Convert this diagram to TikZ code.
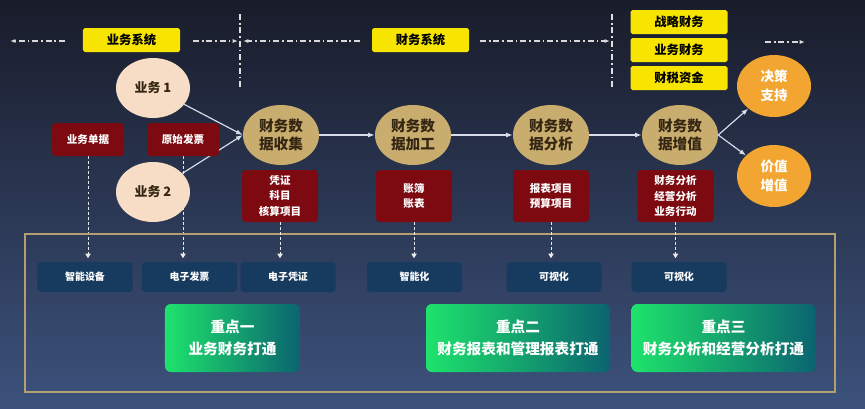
\documentclass[tikz,border=0pt]{standalone}
\usepackage{fontspec}
\setmainfont{Noto Sans CJK SC}
\usetikzlibrary{shapes.geometric, arrows.meta, positioning}
\pgfdeclarelayer{back}
\pgfdeclarelayer{mid}
\pgfsetlayers{back,mid,main}

\definecolor{bgtop}{RGB}{25,28,42}
\definecolor{bgbot}{RGB}{60,82,124}
\definecolor{sysyellow}{RGB}{247,228,0}
\definecolor{peach}{RGB}{248,221,198}
\definecolor{docred}{RGB}{124,10,16}
\definecolor{gold}{RGB}{201,173,110}
\definecolor{goldtext}{RGB}{52,38,18}
\definecolor{orange}{RGB}{242,165,48}
\definecolor{toolblue}{RGB}{23,58,95}
\definecolor{frame}{RGB}{181,159,112}
\definecolor{greenl}{RGB}{30,227,108}
\definecolor{greenr}{RGB}{11,100,112}
\definecolor{flow}{RGB}{215,220,232}

\begin{document}
\begin{tikzpicture}[x=0.03cm, y=-0.03cm,
    tag/.style={fill=sysyellow, text=black, minimum width=2.91cm, minimum height=0.72cm, inner sep=0pt,
        rounded corners=1.5pt, font=\fontsize{10.5}{12}\selectfont\bfseries},
    biz/.style={ellipse, fill=peach, text=goldtext, minimum width=2.22cm, minimum height=1.8cm, inner sep=0pt,
        font=\fontsize{11}{14}\selectfont\bfseries},
    doc/.style={fill=docred, text=white, minimum width=2.16cm, minimum height=0.99cm, inner sep=0pt,
        rounded corners=3pt, align=center, font=\fontsize{9}{13}\selectfont\bfseries},
    bigdoc/.style={doc, minimum width=2.28cm, minimum height=1.56cm},
    proc/.style={ellipse, fill=gold, text=goldtext, minimum width=2.28cm, minimum height=1.8cm, inner sep=0pt,
        align=center, font=\fontsize{12.5}{16}\selectfont\bfseries},
    goal/.style={ellipse, fill=orange, text=white, minimum width=2.22cm, minimum height=1.86cm, inner sep=0pt,
        align=center, font=\fontsize{11.5}{16}\selectfont\bfseries},
    tool/.style={fill=toolblue, text=white, minimum width=2.85cm, minimum height=0.9cm, inner sep=0pt,
        rounded corners=3pt, font=\fontsize{8.5}{10}\selectfont\bfseries},
    focus/.style={left color=greenl, middle color=greenl!80!greenr, right color=greenr, text=white,
        minimum height=2.04cm, inner sep=0pt,
        rounded corners=5pt, align=center, font=\fontsize{12.5}{19}\selectfont\bfseries},
    link/.style={draw=flow, line width=1pt, -{Latex[length=2mm]}},
    sep/.style={draw=gray!25, line width=1.5pt, dash pattern=on 5pt off 2.5pt on 1.5pt off 2.5pt},
    span/.style={draw=gray!30, line width=1.1pt, dash pattern=on 5pt off 2.5pt on 1.5pt off 2.5pt,
        -{Latex[length=1.6mm]}},
    down/.style={draw=white!85!gray, line width=0.8pt, dash pattern=on 2.5pt off 1.8pt,
        -{Triangle[length=1.4mm, width=1.6mm]}, shorten >=3pt}
]
    \begin{pgfonlayer}{back}
        \fill[top color=bgtop, bottom color=bgbot] (0,0) rectangle (865,408);
    \end{pgfonlayer}
    \useasboundingbox (0,0) rectangle (865,408);

    \draw[frame, line width=1.6pt] (25,234) rectangle (835,392);

    \node[tag] (ywxt) at (131.5,40) {业务系统};
    \node[tag] (cwxt) at (420.5,40) {财务系统};
    \node[tag] (zl) at (679,22) {战略财务};
    \node[tag] (ywcw) at (679,50) {业务财务};
    \node[tag] (cszj) at (679,78) {财税资金};

    \coordinate (s1t) at (240,14);
    \coordinate (s1b) at (240,90);
    \coordinate (s2t) at (612,14);
    \coordinate (s2b) at (612,90);
    \coordinate (a0) at (65,41);
    \coordinate (a1) at (10,41);
    \coordinate (a2) at (193,41);
    \coordinate (a3) at (238,41);
    \coordinate (a4) at (360,41);
    \coordinate (a5) at (243,41);
    \coordinate (a6) at (480,41);
    \coordinate (a7) at (610,41);
    \coordinate (a8) at (765,42);
    \coordinate (a9) at (805,42);
    \draw[sep] (s1t) -- (s1b);
    \draw[sep] (s2t) -- (s2b);
    \draw[span] (a0) -- (a1);
    \draw[span] (a2) -- (a3);
    \draw[span] (a4) -- (a5);
    \draw[span] (a6) -- (a7);
    \draw[span] (a8) -- (a9);

    \node[doc] (d1) at (88,139.5) {业务单据};
    \node[doc] (d2) at (183,139.5) {原始发票};
    \node[biz] (y1) at (153,88) {业务 1};
    \node[biz] (y2) at (153,192) {业务 2};

    \node[proc] (c1) at (281,135) {财务数\\据收集};
    \node[proc] (c2) at (413,135) {财务数\\据加工};
    \node[proc] (c3) at (551,135) {财务数\\据分析};
    \node[proc] (c4) at (680,135) {财务数\\据增值};
    \node[goal] (o1) at (774,86) {决策\\支持};
    \node[goal] (o2) at (774,176) {价值\\增值};

    \node[bigdoc] (v1) at (280,196) {凭证\\科目\\核算项目};
    \node[bigdoc] (v2) at (414,196) {账簿\\账表};
    \node[bigdoc] (v3) at (551,196) {报表项目\\预算项目};
    \node[bigdoc] (v4) at (675.5,196) {财务分析\\经营分析\\业务行动};

    \node[tool] (b1) at (85,277) {智能设备};
    \node[tool] (b2) at (189.5,277) {电子发票};
    \node[tool] (b3) at (288,277) {电子凭证};
    \node[tool] (b4) at (414.5,277) {智能化};
    \node[tool] (b5) at (554,277) {可视化};
    \node[tool] (b6) at (679,277) {可视化};

    \node[focus, minimum width=4.05cm] (g1) at (232.5,338) {重点一\\业务财务打通};
    \node[focus, minimum width=5.52cm] (g2) at (518,338) {重点二\\财务报表和管理报表打通};
    \node[focus, minimum width=5.52cm] (g3) at (723.5,338) {重点三\\财务分析和经营分析打通};

    \begin{pgfonlayer}{mid}
        \draw[link] (y1) -- (c1.west);
        \draw[link] (y2) -- (c1.west);
        \draw[down] (d1.south) -- (d1.south |- b1.north);
        \draw[down] (d2.south) -- (d2.south |- b2.north);
    \end{pgfonlayer}
    \draw[link] (c1) -- (c2);
    \draw[link] (c2) -- (c3);
    \draw[link] (c3) -- (c4);
    \draw[link] (c4.east) -- (o1);
    \draw[link] (c4.east) -- (o2);
    \draw[down] (v1.south) -- (v1.south |- b3.north);
    \draw[down] (v2.south) -- (v2.south |- b4.north);
    \draw[down] (v3.south) -- (v3.south |- b5.north);
    \draw[down] (v4.south) -- (v4.south |- b6.north);
\end{tikzpicture}
\end{document}
